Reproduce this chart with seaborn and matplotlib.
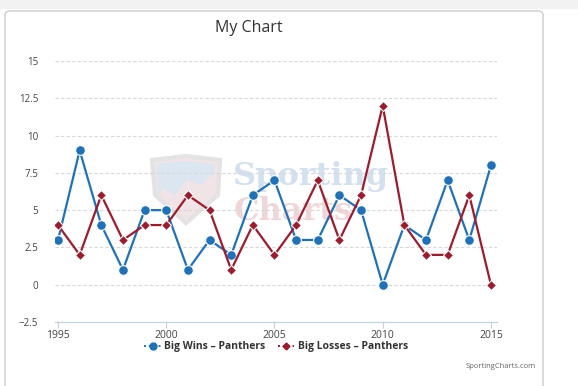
import matplotlib
matplotlib.use("Agg")
import matplotlib.pyplot as plt
import matplotlib.patches as mpatches
import seaborn as sns
import pandas as pd

years = list(range(1995, 2016))
big_wins = [3, 9, 4, 1, 5, 5, 1, 3, 2, 6, 7, 3, 3, 6, 5, 0, 4, 3, 7, 3, 8]
big_losses = [4, 2, 6, 3, 4, 4, 6, 5, 1, 4, 2, 4, 7, 3, 6, 12, 4, 2, 2, 6, 0]
series_names = ["Big Wins \u2013 Panthers", "Big Losses \u2013 Panthers"]
y_ticks = [-2.5, 0, 2.5, 5, 7.5, 10, 12.5, 15]
x_ticks = [1995, 2000, 2005, 2010, 2015]

df = pd.concat([
    pd.DataFrame({"year": years, "value": big_wins, "series": series_names[0]}),
    pd.DataFrame({"year": years, "value": big_losses, "series": series_names[1]}),
])

sns.set_style("white")
plt.rcParams["font.family"] = ["Open Sans", "DejaVu Sans"]

blue = "#1f72b8"
red = "#9e1b2e"

fig = plt.figure(figsize=(5.78, 3.86), dpi=100)


def fx(px):
    return px / 578


def fy(py):
    return 1 - py / 386


# card background
fig.patches.append(mpatches.Rectangle((0, fy(9)), 1, 9 / 386, transform=fig.transFigure,
                                      facecolor="#f2f2f2", edgecolor="none", zorder=-5))
fig.patches.append(mpatches.FancyBboxPatch((fx(5), -0.05), 538 / 578, 1.05 - 9 / 386 - 0.005,
                                           boxstyle="round,pad=0,rounding_size=0.01",
                                           transform=fig.transFigure, facecolor="white",
                                           edgecolor="#cccccc", linewidth=1, zorder=-5))

# watermark logo (shield + text)
shield = [(fx(152), fy(160)), (fx(186), fy(156)), (fx(220), fy(160)), (fx(218), fy(195)),
          (fx(186), fy(223)), (fx(155), fy(195))]
fig.patches.append(mpatches.Polygon(shield, closed=True, transform=fig.transFigure,
                                    facecolor="#f1e4e6", edgecolor="#e3e3e3", linewidth=3, zorder=-4))
fig.patches.append(mpatches.Polygon([(fx(157), fy(164)), (fx(186), fy(161)), (fx(215), fy(164)),
                                     (fx(215), fy(173)), (fx(200), fy(185)), (fx(188), fy(180)),
                                     (fx(174), fy(195)), (fx(164), fy(188)), (fx(158), fy(195))],
                                    closed=True, transform=fig.transFigure,
                                    facecolor="#dbe6f0", edgecolor="none", zorder=-4))
fig.text(fx(311), fy(176), "Sporting", fontsize=23, fontweight="bold", family="DejaVu Serif",
         color="#d3e1ee", ha="center", va="center", zorder=-3)
fig.text(fx(293), fy(211), "Charts", fontsize=23, fontweight="bold", family="DejaVu Serif",
         color="#efd6d8", ha="center", va="center", zorder=-3)

ax = fig.add_axes([fx(55), fy(322), 442 / 578, 261 / 386])
ax.patch.set_alpha(0)

sns.lineplot(data=df, x="year", y="value", hue="series", style="series",
             palette=[blue, red], markers=["o", "D"], dashes=False,
             linewidth=1.6, ax=ax, legend=False, zorder=3)
for line, ms in zip(ax.lines, [7, 5]):
    line.set_markersize(ms)
    line.set_markeredgewidth(0.8)
    line.set_markeredgecolor("white")

ax.set_xlim(1994.86, 2015.28)
ax.set_ylim(-2.5, 15)
ax.set_yticks(y_ticks)
ax.set_yticklabels(["\u22122.5" if t == -2.5 else (f"{t:g}") for t in y_ticks])
ax.set_xticks(x_ticks)
ax.yaxis.grid(True, color="#d8d8d8", linestyle=(0, (3, 2)), linewidth=0.8)
ax.set_axisbelow(True)
for s in ["top", "right", "left"]:
    ax.spines[s].set_visible(False)
ax.spines["bottom"].set_color("#c0d0e0")
ax.tick_params(axis="y", length=0, pad=12, labelsize=7, labelcolor="#444444")
ax.tick_params(axis="x", length=4, color="#c0d0e0", pad=2, labelsize=7.5, labelcolor="#444444",
               bottom=True)
ax.set_xlabel("")
ax.set_ylabel("")

fig.text(fx(249), fy(28), "My Chart", ha="center", va="center", fontsize=11.5, color="#333333")

handles = [
    plt.Line2D([], [], color=blue, marker="o", markersize=5, linewidth=1.4, linestyle=(0, (1, 1.5))),
    plt.Line2D([], [], color=red, marker="D", markersize=3.5, linewidth=1.4, linestyle=(0, (1, 1.5))),
]
fig.legend(handles, series_names, loc="center", bbox_to_anchor=(fx(276), fy(347)),
           ncol=2, frameon=False, prop={"weight": "bold", "size": 7.5}, handlelength=1.6,
           handletextpad=0.3, columnspacing=1.2, labelcolor="#333333")

fig.text(fx(536), fy(366), "SportingCharts.com", ha="right", va="center", fontsize=5.5,
         color="#666666")

fig.savefig("out.png", dpi=100)
